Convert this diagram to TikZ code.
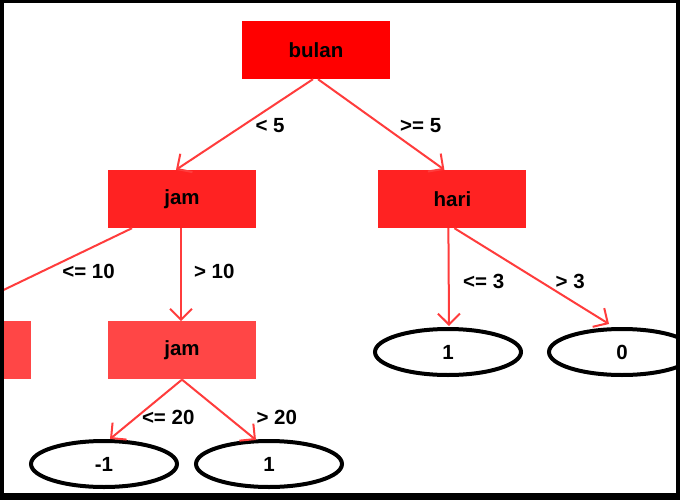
\documentclass[tikz,border=0pt]{standalone}
\usepackage{fontspec}
\setmainfont{Liberation Sans}
\usepackage{tikz}
\usetikzlibrary{positioning,calc,shapes.geometric}
\usetikzlibrary{arrows.meta}
\definecolor{rootred}{RGB}{255,0,0}
\definecolor{midred}{RGB}{255,34,34}
\definecolor{lowred}{RGB}{255,70,70}
\definecolor{edgered}{RGB}{255,60,60}

\begin{document}
\begin{tikzpicture}[
  x=1pt, y=-1pt,
  font = \fontsize{20.5}{23}\selectfont\bfseries,
  split/.style = {
    rectangle,
    minimum width = 148pt,
    minimum height = 58pt,
    inner sep = 0pt,
  },
  rootsplit/.style = {
    split,
    fill = rootred,
  },
  topsplit/.style = {
    split,
    fill = midred,
  },
  lowsplit/.style = {
    split,
    fill = lowred,
  },
  leaf/.style = {
    draw,
    ellipse,
    line width = 4pt,
    minimum width = 146pt,
    minimum height = 46pt,
    inner sep = 0pt,
  },
  branch/.style = {
    draw = edgered,
    line width = 2pt,
    -{Straight Barb[length=11pt,width=22pt,line width=2pt]},
  },
  cond/.style = {
    anchor = west,
    inner sep = 0pt,
  },
]

  % frame
  \useasboundingbox (0,0) rectangle (680,500);
  \fill[black] (0,0) rectangle (680,500);
  \fill[white] (4,3) rectangle (676,493);
  \clip (4,3) rectangle (676,493);

  \node[rootsplit] (bulan) at (316,50) {bulan};
  \node[topsplit] (jamA) at (182,199) {jam};
  \node[topsplit] (hari) [right=122pt of jamA] {hari};
  \node[lowsplit] (jamB) [below=93pt of jamA] {jam};
  \node[lowsplit] (kiri) [left=77pt of jamB] {};

  \node[leaf] (negsatu) at (104,464) {-1};
  \node[leaf] (satuA) [right=15pt of negsatu] {1};
  \node[leaf] (satuB) at (448,352) {1};
  \node[leaf] (nol) [right=24pt of satuB] {0};

  \path[branch] ($(bulan.south)+(-3,0)$) -- ($(jamA.north)+(-6,0)$)
    node[cond,midway,xshift=10pt,yshift=-1pt] (c1) {< 5};
  \path[branch] ($(bulan.south)+(2,0)$) -- ($(hari.north)+(-8,0)$)
    node[cond,midway,xshift=18pt,yshift=-1pt] (c2) {>= 5};

  \path[branch] ($(jamA.south)+(-50,0)$) -- ($(kiri.north)+(-18,0)$)
    node[cond,midway,xshift=26pt,yshift=3pt] (c3) {<= 10};
  \path[branch] ($(jamA.south)+(-1,0)$) -- ($(jamB.north)+(-1,0)$)
    node[cond,midway,xshift=12pt,yshift=3pt] (c4) {> 10};

  \path[branch] (jamB.south) -- ($(negsatu.north)+(6,0)$)
    node[cond,midway,xshift=-5pt,yshift=-8pt] (c5) {<= 20};
  \path[branch] (jamB.south) -- ($(satuA.north)+(-13,1)$)
    node[cond,midway,xshift=36.5pt,yshift=-8pt] (c6) {> 20};

  \path[branch] ($(hari.south)+(-4,0)$) -- ($(satuB.north)+(1,-1)$)
    node[cond,midway,xshift=13.5pt,yshift=-4pt] (c7) {<= 3};
  \path[branch] ($(hari.south)+(2,0)$) -- ($(nol.north)+(-13,-3)$)
    node[cond,midway,xshift=23pt,yshift=-5pt] (c8) {> 3};

\end{tikzpicture}
\end{document}
